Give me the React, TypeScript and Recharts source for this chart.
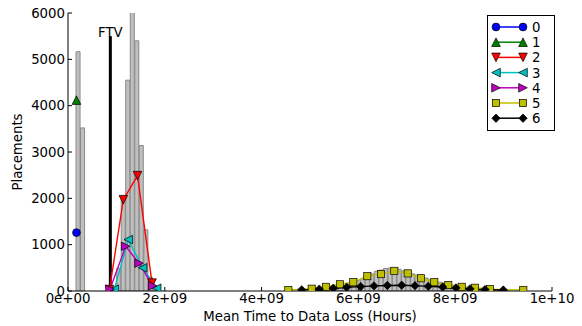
import React from 'react';
import { ComposedChart, Bar, Line, XAxis, YAxis, ReferenceLine, Legend, Label } from 'recharts';

// Histogram (all placements): bin centers and counts
const histX = [
  2.12e8, 3.05e8,
  9.59e8, 1.053e9, 1.146e9, 1.239e9, 1.333e9, 1.426e9, 1.519e9, 1.613e9, 1.706e9, 1.799e9,
  5.162e9, 5.256e9, 5.349e9, 5.442e9, 5.536e9, 5.629e9, 5.723e9, 5.816e9, 5.909e9, 6.003e9,
  6.096e9, 6.190e9, 6.283e9, 6.376e9, 6.470e9, 6.563e9, 6.657e9, 6.750e9, 6.843e9, 6.937e9,
  7.030e9, 7.124e9, 7.217e9, 7.310e9, 7.404e9, 7.497e9, 7.591e9, 7.684e9, 7.777e9, 7.871e9,
  7.964e9, 8.058e9, 8.151e9, 8.244e9, 8.338e9, 8.431e9, 8.525e9, 8.618e9, 8.711e9, 8.805e9, 8.898e9,
];
const histCount = [
  5165, 3520,
  60, 490, 2050, 4550, 6800, 5400, 3140, 1320, 300, 80,
  5, 10, 15, 25, 45, 70, 100, 135, 175, 220,
  270, 320, 370, 425, 450, 485, 495, 480, 470, 435,
  410, 370, 345, 300, 280, 240, 220, 190, 170, 150,
  125, 110, 90, 75, 60, 45, 35, 25, 15, 10, 5,
];

// Per-series curves
const s0X = [1.75e8];
const s0Y = [1260];
const s1X = [1.75e8];
const s1Y = [4120];
const s2X = [8.57e8, 1.143e9, 1.436e9, 1.736e9];
const s2Y = [30, 1970, 2490, 170];
const s3X = [9.57e8, 1.246e9, 1.543e9, 1.833e9];
const s3Y = [40, 1110, 500, 60];
const s4X = [8.68e8, 1.192e9, 1.467e9, 1.75e9];
const s4Y = [40, 965, 600, 110];
const s5X = [4.552e9, 5.035e9, 5.331e9, 5.62e9, 5.895e9, 6.184e9, 6.467e9, 6.742e9, 7.019e9, 7.293e9, 7.568e9, 7.857e9, 8.134e9, 8.409e9, 8.719e9, 9.407e9];
const s5Y = [20, 50, 90, 145, 190, 320, 365, 435, 380, 275, 190, 130, 90, 70, 40, 20];
const s6X = [4.829e9, 5.192e9, 5.481e9, 5.758e9, 6.047e9, 6.322e9, 6.597e9, 6.895e9, 7.169e9, 7.444e9, 7.742e9, 8.017e9, 8.306e9, 8.616e9, 8.994e9];
const s6Y = [25, 40, 60, 80, 95, 110, 120, 125, 115, 100, 85, 65, 45, 30, 20];

const seriesNames = ['0', '1', '2', '3', '4', '5', '6'];
const seriesColors = ['#0000ff', '#008000', '#ff0000', '#00bfbf', '#bf00bf', '#bfbf00', '#000000'];
const seriesMarkers = ['o', '^', 'v', '<', '>', 's', 'D'];
const seriesXs = [s0X, s1X, s2X, s3X, s4X, s5X, s6X];
const seriesYs = [s0Y, s1Y, s2Y, s3Y, s4Y, s5Y, s6Y];

const xTicks = [0, 2e9, 4e9, 6e9, 8e9, 1e10];
const yTicks = [0, 1000, 2000, 3000, 4000, 5000, 6000];
const ftvX = 8.75e8;
const ftvTop = 5500;

const histData = histX.map((x, i) => ({ x, y: histCount[i] }));
const seriesData = seriesXs.map((xs, i) => xs.map((x, j) => ({ x, y: seriesYs[i][j] })));

const FS = 13.3;

const fmtX = (v: number) => {
  if (v === 0) return '0e+00';
  const e = Math.floor(Math.log10(v) + 1e-9);
  const m = Math.round(v / Math.pow(10, e));
  return `${m}e+${e < 10 ? '0' + e : e}`;
};

function Marker({ shape, cx, cy, color }: { shape: string; cx: number; cy: number; color: string }) {
  const s = 4.3;
  const common = { fill: color, stroke: '#000', strokeWidth: 0.7 };
  switch (shape) {
    case 'o':
      return <circle cx={cx} cy={cy} r={3.9} {...common} />;
    case '^':
      return <polygon points={`${cx},${cy - s} ${cx - s},${cy + s} ${cx + s},${cy + s}`} {...common} />;
    case 'v':
      return <polygon points={`${cx},${cy + s} ${cx - s},${cy - s} ${cx + s},${cy - s}`} {...common} />;
    case '<':
      return <polygon points={`${cx - s},${cy} ${cx + s},${cy - s} ${cx + s},${cy + s}`} {...common} />;
    case '>':
      return <polygon points={`${cx + s},${cy} ${cx - s},${cy - s} ${cx - s},${cy + s}`} {...common} />;
    case 's':
      return <rect x={cx - 3.6} y={cy - 3.6} width={7.2} height={7.2} {...common} />;
    case 'D':
      return <polygon points={`${cx},${cy - 4.2} ${cx + 4.2},${cy} ${cx},${cy + 4.2} ${cx - 4.2},${cy}`} {...common} />;
    default:
      return null;
  }
}

const LegendBox = () => {
  const w = 68;
  const h = 116;
  return (
    <svg width={w} height={h} style={{ display: 'block' }}>
      <rect x={0.5} y={0.5} width={w - 1} height={h - 1} fill="#fff" stroke="#000" strokeWidth={1} />
      {seriesNames.map((n, i) => {
        const cy = 12 + i * 15.2;
        return (
          <g key={n}>
            <line x1={9} y1={cy} x2={36} y2={cy} stroke={seriesColors[i]} strokeWidth={1.5} />
            <Marker shape={seriesMarkers[i]} cx={9} cy={cy} color={seriesColors[i]} />
            <Marker shape={seriesMarkers[i]} cx={36} cy={cy} color={seriesColors[i]} />
            <text x={45} y={cy + 5} fontSize={FS} fill="#000">{n}</text>
          </g>
        );
      })}
    </svg>
  );
};

export default function App() {
  return (
    <div style={{ position: 'absolute', left: 0, top: 0, width: 582, height: 326, background: '#fff', fontFamily: 'DejaVu Sans' }}>
      <ComposedChart width={582} height={326} data={histData} margin={{ top: 13, right: 30, bottom: 0, left: 0 }}>
        <XAxis
          dataKey="x"
          type="number"
          domain={[0, 1e10]}
          ticks={xTicks}
          allowDataOverflow
          height={35}
          tickFormatter={fmtX}
          tickSize={-4}
          tickMargin={7}
          stroke="#000"
          tick={{ fill: '#000', fontSize: FS }}
          interval={0}
        >
          <Label value="Mean Time to Data Loss (Hours)" position="insideBottom" offset={5} fill="#000" fontSize={FS} />
        </XAxis>
        <XAxis xAxisId="hist" dataKey="x" type="number" domain={[0, 1e10]} allowDataOverflow hide />
        <XAxis
          xAxisId="top"
          orientation="top"
          type="number"
          dataKey="x"
          domain={[0, 1e10]}
          ticks={xTicks}
          allowDataOverflow
          height={0}
          tickSize={-4}
          tickFormatter={() => ''}
          stroke="#000"
          interval={0}
        />
        <YAxis
          type="number"
          domain={[0, 6000]}
          ticks={yTicks}
          allowDataOverflow
          width={68}
          tickSize={-4}
          tickMargin={7}
          stroke="#000"
          tick={{ fill: '#000', fontSize: FS }}
          interval={0}
        >
          <Label value="Placements" angle={-90} position="insideLeft" offset={17} fill="#000" fontSize={FS} style={{ textAnchor: 'middle' }} />
        </YAxis>
        <YAxis
          yAxisId="right"
          orientation="right"
          type="number"
          domain={[0, 6000]}
          ticks={yTicks}
          allowDataOverflow
          width={0}
          tickSize={-4}
          tickFormatter={() => ''}
          stroke="#000"
          interval={0}
        />
        <Bar xAxisId="hist" dataKey="y" fill="#bfbfbf" stroke="#8a8a8a" strokeWidth={1} barSize={4.52} isAnimationActive={false} />
        <ReferenceLine
          segment={[{ x: ftvX, y: 0 }, { x: ftvX, y: ftvTop }]}
          stroke="#000"
          strokeWidth={3}
          ifOverflow="visible"
          label={{ value: 'FTV', position: 'top', offset: -1, fill: '#000', fontSize: FS }}
        />
        {seriesData.map((d, i) => (
          <Line
            key={seriesNames[i]}
            data={d}
            dataKey="y"
            stroke={seriesColors[i]}
            strokeWidth={1.4}
            isAnimationActive={false}
            activeDot={false}
            dot={(p: any) => (
              <Marker key={`m${i}-${p.index}`} shape={seriesMarkers[i]} cx={p.cx} cy={p.cy} color={seriesColors[i]} />
            )}
          />
        ))}
        <Legend
          layout="horizontal"
          verticalAlign="middle"
          align="center"
          wrapperStyle={{ left: 487, top: 15, width: 68, height: 116 }}
          content={() => <LegendBox />}
        />
      </ComposedChart>
    </div>
  );
}
